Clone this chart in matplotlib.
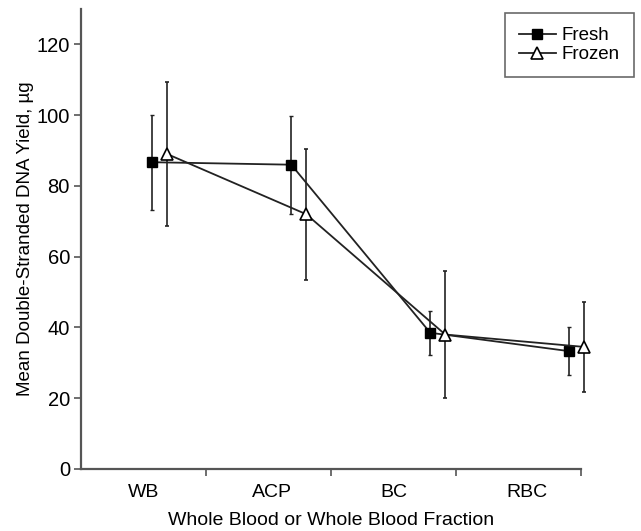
import numpy as np
import matplotlib
matplotlib.use("Agg")
import matplotlib.pyplot as plt
from matplotlib.lines import Line2D

plt.rcParams['font.family'] = ['Liberation Sans', 'DejaVu Sans']

categories = ["WB", "ACP", "BC", "RBC"]
fresh_mean = [86.7, 86.0, 38.5, 33.3]
fresh_err = [13.4, 13.8, 6.2, 6.7]
frozen_mean = [89.0, 72.0, 38.0, 34.5]
frozen_err = [20.3, 18.5, 18.0, 12.7]
yticks = [0, 20, 40, 60, 80, 100, 120]

fig = plt.figure(figsize=(6.41, 5.31), dpi=100)
ax = fig.add_axes([81/641, 62/531, 500/641, 460/531])

idx = np.arange(len(categories))
x_fresh = 0.57 + idx * 1.112
x_frozen = x_fresh + 0.12

line_col = "#222222"
fresh_style = dict(color=line_col, lw=1.3, marker='s', ms=6.5, mfc='black', mec='black')
frozen_style = dict(color=line_col, lw=1.3, marker='^', ms=8.5, mfc='white', mec='black', mew=1.2)

for xs, m, e, st in [(x_fresh, fresh_mean, fresh_err, fresh_style),
                     (x_frozen, frozen_mean, frozen_err, frozen_style)]:
    cont = ax.errorbar(xs, m, yerr=e, ecolor=line_col, elinewidth=1.2,
                       capsize=1.5, capthick=1.0, zorder=3, **st)
    for art in [cont.lines[0]] + list(cont.lines[1]) + list(cont.lines[2]):
        art.set_clip_on(False)

ax.set_xlim(0, 4)
ax.set_ylim(0, 130)
ax.set_yticks(yticks)
ax.set_yticklabels([str(v) for v in yticks], fontsize=14.5)

ax.set_xticks([1, 2, 3, 4])
ax.set_xticklabels([])
ax.set_xticks([0.5, 1.53, 2.5, 3.57], minor=True)
ax.set_xticklabels(categories, minor=True, fontsize=14)
ax.tick_params(axis='x', which='minor', length=0, pad=11)
ax.tick_params(axis='both', which='major', direction='out', length=5,
               width=1.2, color='#555555')
ax.tick_params(axis='y', pad=3)

for s in ['top', 'right']:
    ax.spines[s].set_visible(False)
for s in ['left', 'bottom']:
    ax.spines[s].set_color('#555555')
    ax.spines[s].set_linewidth(1.6)

ax.set_ylabel("Mean Double-Stranded DNA Yield, µg", fontsize=13.5, labelpad=2)
ax.set_xlabel("Whole Blood or Whole Blood Fraction", fontsize=14, labelpad=8)

handles = [Line2D([], [], **fresh_style), Line2D([], [], **frozen_style)]
leg = ax.legend(handles, ["Fresh", "Frozen"], loc='upper right',
                bbox_to_anchor=(634/641, 1 - 13/531),
                bbox_transform=fig.transFigure, fontsize=13.5, frameon=True,
                fancybox=False, edgecolor='#444444', handlelength=2.0,
                handletextpad=0.3, borderpad=0.75, labelspacing=0.1,
                borderaxespad=0)
leg.get_frame().set_linewidth(1.2)

fig.savefig("out.png", dpi=100, facecolor='white')
